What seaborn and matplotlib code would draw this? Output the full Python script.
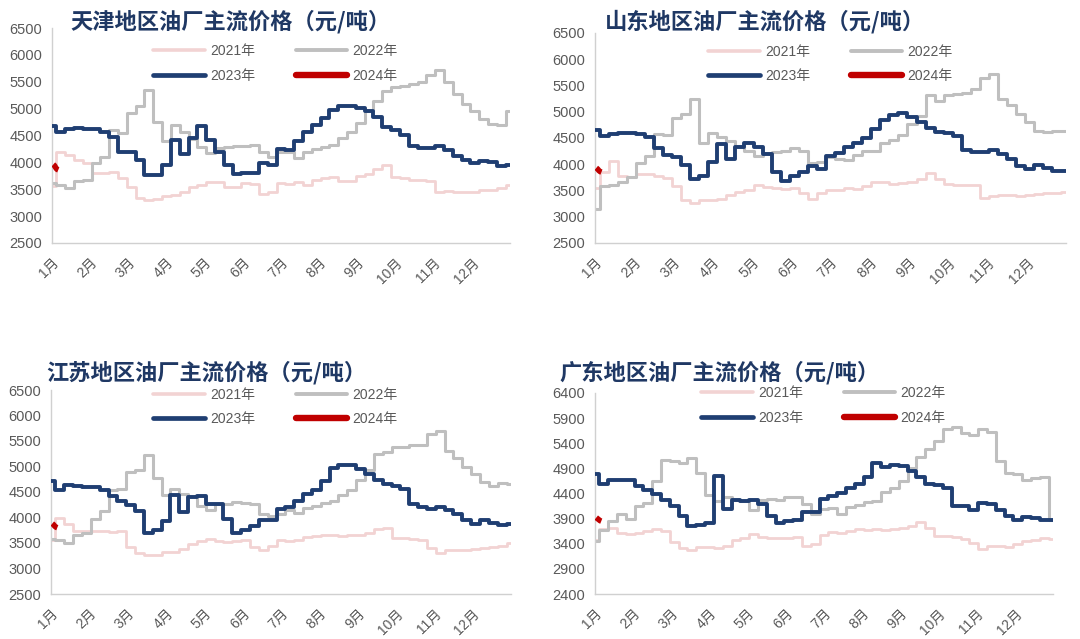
import numpy as np
import pandas as pd
import matplotlib
matplotlib.use("Agg")
import matplotlib.pyplot as plt
import seaborn as sns
from matplotlib.lines import Line2D

sns.set_theme(style="white")
plt.rcParams["font.family"] = ["Liberation Sans", "Noto Sans CJK SC"]

# ---- data -------------------------------------------------------------
months = ["1月", "2月", "3月", "4月", "5月", "6月", "7月", "8月", "9月", "10月", "11月", "12月"]
years = ["2021年", "2022年", "2023年", "2024年"]
week = list(range(53))          # weekly observations through the year
day_2024 = [1, 2, 3, 4, 5]      # first trading days of 2024

tianjin_2021 = [3560, 4200, 4140, 4050, 3990, 3800, 3810, 3830, 3700, 3550, 3340, 3300, 3310,
                3370, 3400, 3450, 3550, 3570, 3630, 3640, 3550, 3540, 3610, 3600, 3420, 3450,
                3620, 3600, 3640, 3580, 3680, 3700, 3720, 3650, 3660, 3740, 3780, 3880, 3950,
                3730, 3700, 3680, 3680, 3650, 3440, 3460, 3450, 3440, 3440, 3480, 3490, 3520, 3580]
tianjin_2022 = [3620, 3580, 3530, 3650, 3680, 3990, 4100, 4600, 4550, 4920, 5040, 5350, 4750,
                4400, 4700, 4560, 4430, 4280, 4180, 4260, 4280, 4300, 4300, 4320, 4200, 4100,
                4200, 4200, 4090, 4200, 4250, 4280, 4330, 4460, 4560, 4730, 4950, 5150, 5330,
                5400, 5420, 5450, 5500, 5620, 5720, 5500, 5270, 5080, 4950, 4800, 4720, 4690, 4960]
tianjin_2023 = [4680, 4560, 4620, 4640, 4630, 4620, 4560, 4480, 4200, 4200, 4050, 3760, 3760,
                3950, 4420, 4150, 4450, 4680, 4420, 4200, 3950, 3780, 3800, 3800, 3980, 3950,
                4250, 4230, 4400, 4560, 4700, 4820, 4980, 5050, 5040, 5010, 4960, 4850, 4650,
                4610, 4500, 4300, 4270, 4260, 4300, 4230, 4120, 4050, 3980, 4030, 4000, 3930, 3950]
tianjin_2024 = [3960, 3940, 3900, 3870, 3860]

shandong_2021 = [3550, 3850, 4060, 3780, 3750, 3820, 3820, 3770, 3730, 3580, 3310, 3270, 3320,
                 3310, 3340, 3420, 3480, 3510, 3610, 3570, 3540, 3530, 3540, 3450, 3330, 3450,
                 3510, 3500, 3550, 3520, 3580, 3670, 3670, 3620, 3640, 3660, 3720, 3830, 3720,
                 3620, 3600, 3610, 3600, 3360, 3390, 3410, 3410, 3400, 3410, 3440, 3450, 3460, 3480]
shandong_2022 = [3150, 3580, 3600, 3670, 3760, 4020, 4150, 4580, 4560, 4880, 4950, 5250, 4400,
                 4590, 4520, 4450, 4340, 4250, 4160, 4215, 4230, 4260, 4300, 4260, 4030, 4040,
                 4140, 4100, 4080, 4170, 4245, 4260, 4400, 4470, 4560, 4760, 4910, 5320, 5210,
                 5320, 5330, 5360, 5440, 5640, 5720, 5250, 5120, 4950, 4800, 4640, 4610, 4630, 4630]
shandong_2023 = [4660, 4530, 4570, 4595, 4600, 4570, 4520, 4300, 4180, 4140, 3980, 3710, 3770,
                 4050, 4380, 4100, 4320, 4400, 4320, 4200, 3850, 3680, 3770, 3850, 3960, 3900,
                 4150, 4220, 4320, 4400, 4500, 4680, 4850, 4930, 4970, 4900, 4800, 4690, 4620,
                 4595, 4530, 4280, 4240, 4230, 4280, 4200, 4100, 3960, 3910, 3990, 3930, 3870, 3870]
shandong_2024 = [3930, 3910, 3880, 3860, 3850]

jiangsu_2021 = [3560, 4000, 3880, 3730, 3740, 3740, 3740, 3720, 3730, 3420, 3300, 3260, 3270,
                3330, 3330, 3380, 3490, 3530, 3570, 3530, 3520, 3530, 3560, 3420, 3360, 3440,
                3560, 3540, 3560, 3620, 3640, 3660, 3660, 3630, 3650, 3660, 3700, 3780, 3790,
                3590, 3590, 3570, 3550, 3400, 3310, 3370, 3360, 3370, 3380, 3410, 3430, 3450, 3500]
jiangsu_2022 = [3570, 3560, 3500, 3650, 3690, 3980, 4130, 4540, 4560, 4900, 4940, 5220, 4780,
                4450, 4550, 4470, 4420, 4230, 4150, 4260, 4270, 4300, 4290, 4270, 4070, 4020,
                4070, 4140, 4080, 4180, 4220, 4280, 4320, 4440, 4540, 4740, 4930, 5250, 5280,
                5380, 5390, 5420, 5430, 5630, 5700, 5300, 5170, 4990, 4850, 4700, 4610, 4670, 4660]
jiangsu_2023 = [4720, 4540, 4630, 4620, 4600, 4600, 4540, 4420, 4320, 4240, 4120, 3700, 3750,
                3930, 4450, 4100, 4400, 4420, 4270, 4260, 3980, 3700, 3760, 3830, 3950, 3950,
                4170, 4210, 4320, 4460, 4540, 4710, 4980, 5030, 5020, 4950, 4860, 4740, 4650,
                4610, 4560, 4260, 4200, 4170, 4210, 4150, 4060, 3950, 3880, 3950, 3890, 3850, 3880]
jiangsu_2024 = [3880, 3860, 3830, 3810, 3800]

guangdong_2021 = [3470, 3700, 3720, 3620, 3590, 3620, 3660, 3700, 3650, 3440, 3310, 3280, 3330,
                  3340, 3310, 3350, 3470, 3520, 3600, 3540, 3510, 3520, 3510, 3530, 3360, 3390,
                  3580, 3630, 3610, 3660, 3690, 3670, 3700, 3670, 3700, 3710, 3760, 3830, 3720,
                  3560, 3550, 3530, 3500, 3420, 3300, 3360, 3360, 3340, 3390, 3450, 3480, 3520, 3500]
guangdong_2022 = [3450, 3680, 3850, 4000, 3900, 4150, 4210, 4650, 5060, 5050, 5000, 5100, 4800,
                  4380, 4250, 4330, 4280, 4250, 4080, 4270, 4300, 4280, 4330, 4330, 4200, 4000,
                  4100, 4120, 4000, 4130, 4170, 4230, 4260, 4420, 4500, 4650, 4900, 5130, 5280,
                  5450, 5690, 5720, 5610, 5560, 5680, 5620, 5050, 4800, 4780, 4660, 4700, 4730, 3880]
guangdong_2023 = [4780, 4580, 4660, 4660, 4660, 4540, 4470, 4390, 4270, 4160, 3950, 3750, 3770,
                  3820, 4750, 4100, 4280, 4250, 4270, 4200, 3950, 3820, 3860, 3870, 4040, 4040,
                  4290, 4360, 4410, 4500, 4590, 4720, 5000, 4930, 4960, 4950, 4840, 4720, 4590,
                  4560, 4500, 4150, 4150, 4070, 4220, 4200, 4080, 3950, 3870, 3930, 3920, 3870, 3870]
guangdong_2024 = [3920, 3900, 3880, 3860, 3850]

titles = ["天津地区油厂主流价格（元/吨）", "山东地区油厂主流价格（元/吨）",
          "江苏地区油厂主流价格（元/吨）", "广东地区油厂主流价格（元/吨）"]
yticks_std = [2500, 3000, 3500, 4000, 4500, 5000, 5500, 6000, 6500]
yticks_gd = [2400, 2900, 3400, 3900, 4400, 4900, 5400, 5900, 6400]

# ---- styling ----------------------------------------------------------
colors = {"2021年": "#F2D3D3", "2022年": "#BFBFBF", "2023年": "#1F3E72", "2024年": "#C00000"}
widths = {"2021年": 2.0, "2022年": 2.2, "2023年": 2.8, "2024年": 4.0}
order = {"2021年": 1, "2022年": 2, "2023年": 3, "2024年": 4}
TITLE_COLOR = "#1F3864"
TICK_COLOR = "#595959"
AXIS_COLOR = "#D0D0D0"

W, H = 1080, 639
fig = plt.figure(figsize=(W / 100, H / 100), dpi=100)
fig.patch.set_facecolor("white")


def px_rect(left, right, top, bottom):
    return [left / W, 1 - bottom / H, (right - left) / W, (bottom - top) / H]


panels = [
    dict(title=titles[0], rect=px_rect(52, 510, 28, 243), title_xy=(70, 22), yticks=yticks_std,
         legend_at=(0.488, 0.835),
         series=[tianjin_2021, tianjin_2022, tianjin_2023], s24=tianjin_2024),
    dict(title=titles[1], rect=px_rect(595, 1066, 33, 243), title_xy=(605, 22), yticks=yticks_std,
         legend_at=(0.50, 0.852),
         series=[shandong_2021, shandong_2022, shandong_2023], s24=shandong_2024),
    dict(title=titles[2], rect=px_rect(51, 511, 390, 594), title_xy=(46, 373), yticks=yticks_std,
         legend_at=(0.488, 0.917),
         series=[jiangsu_2021, jiangsu_2022, jiangsu_2023], s24=jiangsu_2024),
    dict(title=titles[3], rect=px_rect(595, 1053, 393, 594), title_xy=(559, 373), yticks=yticks_gd,
         legend_at=(0.499, 0.938),
         series=[guangdong_2021, guangdong_2022, guangdong_2023], s24=guangdong_2024),
]

x_week = np.array(week) * 12 / 52
x_2024 = np.array(day_2024) * 12 / 365

for p in panels:
    ax = fig.add_axes(p["rect"])
    frames = []
    for yr, vals in zip(years[:3], p["series"]):
        frames.append(pd.DataFrame({"x": x_week, "price": vals, "year": yr}))
    frames.append(pd.DataFrame({"x": x_2024, "price": p["s24"], "year": years[3]}))
    df = pd.concat(frames, ignore_index=True)

    for yr in years:
        sub = df[df["year"] == yr]
        sns.lineplot(data=sub, x="x", y="price", ax=ax, color=colors[yr],
                     linewidth=widths[yr], estimator=None, sort=False,
                     drawstyle="steps-mid" if yr != "2024年" else "default",
                     solid_capstyle="butt", zorder=order[yr], legend=False)

    yt = p["yticks"]
    ax.set_ylim(yt[0], yt[-1])
    ax.set_yticks(yt)
    ax.set_yticklabels([str(v) for v in yt])
    ax.set_xlim(0, 12)
    ax.set_xticks(range(12))
    ax.set_xticklabels(months, rotation=45, ha="right", rotation_mode="anchor")
    ax.set_xlabel("")
    ax.set_ylabel("")

    for side in ["top", "right"]:
        ax.spines[side].set_visible(False)
    for side in ["left", "bottom"]:
        ax.spines[side].set_color(AXIS_COLOR)
        ax.spines[side].set_linewidth(1.0)
    ax.tick_params(axis="both", colors=AXIS_COLOR, length=4, width=0.8, direction="out")
    ax.tick_params(axis="y", labelsize=10.5, labelcolor=TICK_COLOR, pad=3)
    ax.tick_params(axis="x", labelsize=10, labelcolor=TICK_COLOR, pad=5)
    ax.grid(False)
    ax.set_facecolor("none")

    # legend laid out row by row: 2021 | 2022 on top, 2023 | 2024 below
    leg_years = [years[0], years[2], years[1], years[3]]
    handles = [Line2D([], [], color=colors[yr], linewidth=widths[yr] + 0.6) for yr in leg_years]
    leg = ax.legend(handles, leg_years, ncol=2, loc="center", bbox_to_anchor=p["legend_at"],
                    frameon=False, fontsize=10, handlelength=3.7, handletextpad=0.4,
                    columnspacing=2.9, labelspacing=0.75)
    for t in leg.get_texts():
        t.set_color(TICK_COLOR)

    tx, ty = p["title_xy"]
    fig.text(tx / W, 1 - ty / H, p["title"], fontsize=16, fontweight="bold",
             color=TITLE_COLOR, ha="left", va="center",
             family=["Noto Sans CJK SC", "DejaVu Sans"])

fig.savefig("out.png", dpi=100, facecolor="white")
